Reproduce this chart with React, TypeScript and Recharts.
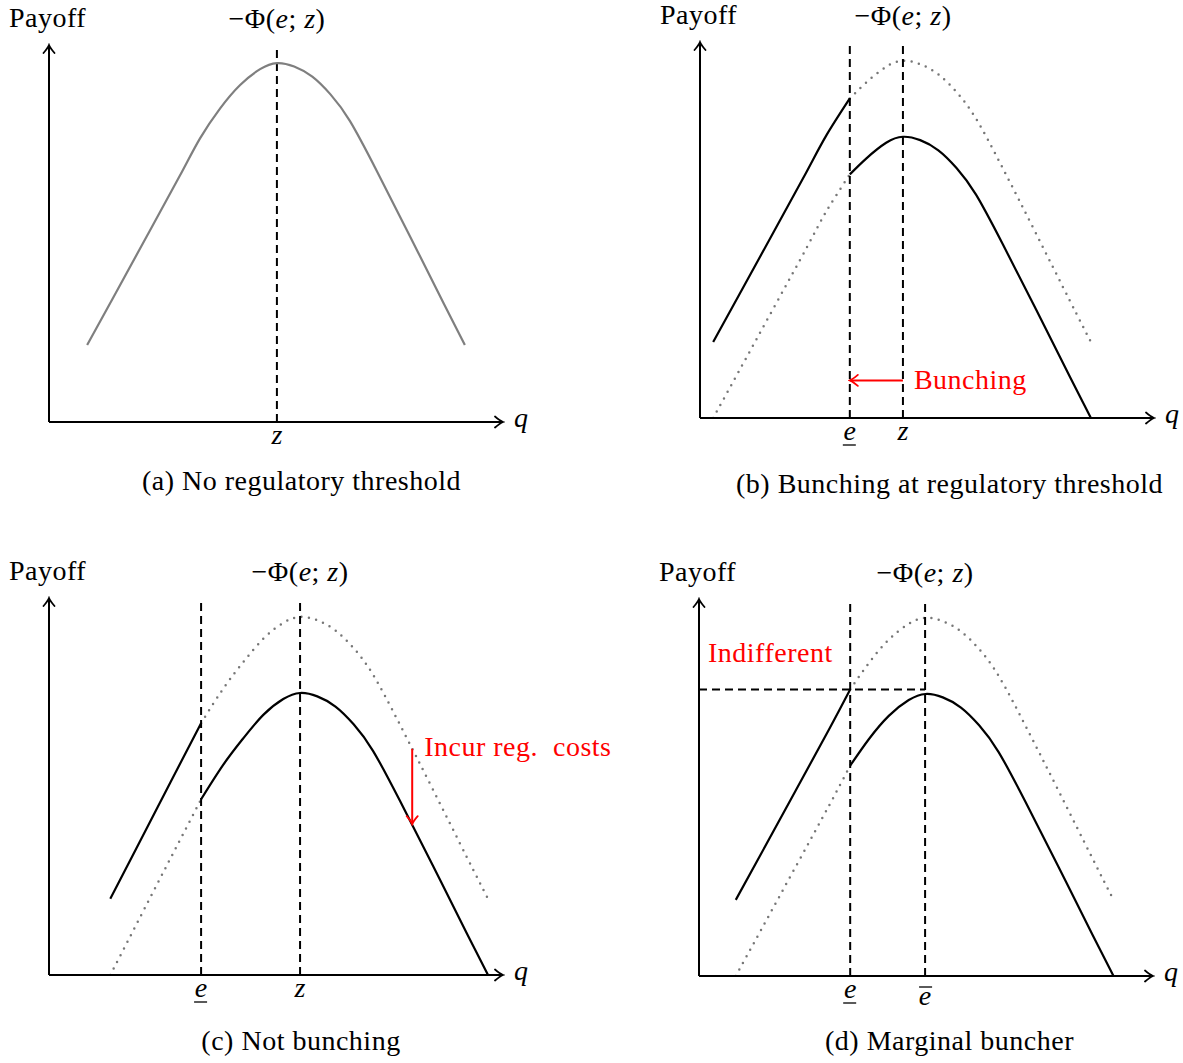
import React from "react";
import { LineChart, Line, XAxis, YAxis, ReferenceLine } from "recharts";

// (a) no regulatory threshold
const qA = [8.4, 14.1, 21.6, 28.9, 33.3, 37.7, 42.1, 46.5, 50.2, 54.0, 58.0, 62.0, 66.3, 72.2, 79.5, 87.0, 91.6];
const payoffA = [20.4, 32.9, 49.4, 65.5, 75.3, 83.2, 89.4, 93.6, 95.2, 94.3, 91.6, 86.9, 79.8, 66.6, 49.3, 31.3, 20.4];
const zA = 50.2;

// (b) bunching at regulatory threshold
const qB = [2.9, 8.6, 16.1, 23.4, 27.8, 33.0, 36.6, 41.0, 44.7, 48.5, 52.5, 56.5, 60.8, 66.7, 74.0, 81.5, 86.1];
const upperB = [20.2, 32.7, 49.2, 65.3, 75.1, 85.0, 89.2, 93.4, 95.0, 94.1, 91.4, 86.7, 79.6, 66.4, 49.1, 31.1, 20.2];
const lowerB = [0, 12.5, 29.0, 45.1, 54.9, 64.8, 69.0, 73.2, 74.8, 73.9, 71.2, 66.5, 59.4, 46.2, 28.9, 10.9, 0];
const eB = 33.0;
const zB = 44.7;
const bunchingLevelB = 10;

// (c) not bunching
const qC = [13.5, 19.2, 26.7, 33.5, 38.4, 42.8, 47.2, 51.6, 55.3, 59.1, 63.1, 67.1, 71.4, 77.3, 84.6, 92.1, 96.7];
const upperC = [20.2, 33.5, 51.0, 66.8, 76.0, 83.0, 89.2, 93.4, 95.0, 94.1, 91.4, 86.7, 79.6, 66.4, 49.1, 31.1, 20.2];
const lowerC = [0, 13.3, 30.8, 46.6, 55.8, 62.8, 69.0, 73.2, 74.8, 73.9, 71.2, 66.5, 59.4, 46.2, 28.9, 10.9, 0];
const eC = 33.5;
const zC = 55.3;
const costQC = 80;
const costFromC = 60;
const costToC = 40;

// (d) marginal buncher
const qD = [8.1, 13.8, 21.3, 28.6, 33.3, 37.4, 41.8, 46.2, 49.9, 53.7, 57.7, 61.7, 66.0, 71.9, 79.2, 86.7, 91.3];
const upperD = [20.2, 32.7, 49.2, 65.3, 76.0, 83.0, 89.2, 93.4, 95.0, 94.1, 91.4, 86.7, 79.6, 66.4, 49.1, 31.1, 20.2];
const lowerD = [0, 12.5, 29.0, 45.1, 55.8, 62.8, 69.0, 73.2, 74.8, 73.9, 71.2, 66.5, 59.4, 46.2, 28.9, 10.9, 0];
const eD = 33.3;
const ebarD = 49.8;
const indifferentD = 76.0;

const captions = [
  "(a) No regulatory threshold",
  "(b) Bunching at regulatory threshold",
  "(c) Not bunching",
  "(d) Marginal buncher",
];

const FONT = '"Liberation Serif", "Times New Roman", serif';
const SIZE = 28;
const SPACING = "0.5px";

function splitRows(q: number[], upper: number[], lower: number[], e: number) {
  return q.map((x, i) => ({
    q: x,
    upperSolid: x <= e ? upper[i] : null,
    upperDotted: x >= e ? upper[i] : null,
    lowerDotted: x <= e ? lower[i] : null,
    lowerSolid: x >= e ? lower[i] : null,
  }));
}

const rowsA = qA.map((q, i) => ({ q, payoff: payoffA[i] }));
const rowsB = splitRows(qB, upperB, lowerB, eB);
const rowsC = splitRows(qC, upperC, lowerC, eC);
const rowsD = splitRows(qD, upperD, lowerD, eD);

const makeTick = (values: number[], labels: string[], marks: string[]) => (props: any) => {
  const { x, y, payload } = props;
  const i = values.indexOf(payload.value);
  if (i < 0) return <g />;
  const base = y + (marks[i] === "over" ? 29 : 22);
  return (
    <g>
      <text x={x} y={base} textAnchor="middle" fontFamily={FONT} fontSize={SIZE} fontStyle="italic" fill="#000">
        {labels[i]}
      </text>
      {marks[i] === "under" && <line x1={x - 7} x2={x + 6} y1={base + 5} y2={base + 5} stroke="#000" strokeWidth={1.3} />}
      {marks[i] === "over" && <line x1={x - 6} x2={x + 7} y1={base - 18} y2={base - 18} stroke="#000" strokeWidth={1.3} />}
    </g>
  );
};

const qLabel = (props: any) => {
  const vb = props.viewBox;
  return (
    <text x={vb.x + vb.width + 11} y={vb.y + 5} fontFamily={FONT} fontSize={SIZE} fontStyle="italic" fill="#000">
      q
    </text>
  );
};

const payoffLabel = (props: any) => {
  const vb = props.viewBox;
  return (
    <text x={vb.x + vb.width - 40} y={vb.y - 18} fontFamily={FONT} fontSize={SIZE} fill="#000" style={{ letterSpacing: SPACING }}>
      Payoff
    </text>
  );
};

const phiLabel = (props: any) => {
  const vb = props.viewBox;
  return (
    <text x={vb.x} y={vb.y - 17} textAnchor="middle" fontFamily={FONT} fontSize={SIZE} fill="#000" style={{ letterSpacing: SPACING }}>
      −Φ(<tspan fontStyle="italic">e</tspan>; <tspan fontStyle="italic">z</tspan>)
    </text>
  );
};

const redText = (text: string, dx: number, dy: number) => (props: any) => {
  const vb = props.viewBox;
  return (
    <text
      x={vb.x + vb.width + dx}
      y={vb.y + dy}
      fontFamily={FONT}
      fontSize={SIZE}
      fill="#ff0000"
      style={{ letterSpacing: SPACING, whiteSpace: "pre" }}
    >
      {text}
    </text>
  );
};

const solid = { stroke: "#000", strokeWidth: 2.2, dot: false, activeDot: false, isAnimationActive: false, type: "natural" as const };
const dotted = {
  stroke: "#777",
  strokeWidth: 2.5,
  strokeDasharray: "0 7.5",
  strokeLinecap: "round" as const,
  dot: false,
  activeDot: false,
  isAnimationActive: false,
  type: "natural" as const,
};
const dashed = { stroke: "#000", strokeWidth: 2, strokeDasharray: "8 5" };

function Frame(props: any) {
  const { left, top, width, height, margin, rows, tickValues, tickLabels, tickMarks, children } = props;
  return (
    <div style={{ position: "absolute", left, top }}>
      <LineChart width={width} height={height} data={rows} margin={margin}>
        <XAxis
          type="number"
          dataKey="q"
          domain={[0, 100]}
          allowDataOverflow
          ticks={tickValues}
          interval={0}
          tickLine={false}
          tickSize={0}
          tickMargin={0}
          height={30}
          axisLine={{ stroke: "#000", strokeWidth: 2, markerEnd: "url(#tipBlack)" }}
          tick={makeTick(tickValues, tickLabels, tickMarks)}
          label={qLabel}
        />
        <YAxis
          type="number"
          domain={[0, 100]}
          allowDataOverflow
          width={10}
          tick={false}
          tickLine={false}
          axisLine={{ stroke: "#000", strokeWidth: 2, markerStart: "url(#tipBlack)" }}
          label={payoffLabel}
        />
        {children}
      </LineChart>
    </div>
  );
}

function Caption({ text, center, baseline }: { text: string; center: number; baseline: number }) {
  return (
    <div
      style={{
        position: "absolute",
        left: center - 300,
        width: 600,
        top: baseline - 23.4,
        textAlign: "center",
        fontFamily: FONT,
        fontSize: SIZE,
        lineHeight: "28px",
        letterSpacing: SPACING,
        whiteSpace: "nowrap",
        color: "#000",
      }}
    >
      {text}
    </div>
  );
}

export default function App() {
  return (
    <div style={{ position: "absolute", left: 0, top: 0, width: 1183, height: 1063, background: "#fff" }}>
      <svg width={0} height={0} style={{ position: "absolute" }}>
        <defs>
          <marker id="tipBlack" viewBox="-10 -7 12 14" refX={0} refY={0} markerWidth={12} markerHeight={14} markerUnits="userSpaceOnUse" orient="auto-start-reverse">
            <path d="M-8,-5.5 Q-3,-1.2 0,0 Q-3,1.2 -8,5.5" fill="none" stroke="#000" strokeWidth={1.8} strokeLinecap="round" />
          </marker>
          <marker id="tipRed" viewBox="-10 -7 12 14" refX={0} refY={0} markerWidth={12} markerHeight={14} markerUnits="userSpaceOnUse" orient="auto-start-reverse">
            <path d="M-8,-5.5 Q-3,-1.2 0,0 Q-3,1.2 -8,5.5" fill="none" stroke="#ff0000" strokeWidth={1.8} strokeLinecap="round" />
          </marker>
        </defs>
      </svg>

      {/* (a) */}
      <Frame
        left={0}
        top={0}
        width={640}
        height={470}
        margin={{ top: 45, left: 39, right: 137, bottom: 18 }}
        rows={rowsA}
        tickValues={[zA]}
        tickLabels={["z"]}
        tickMarks={["none"]}
      >
        <ReferenceLine x={zA} {...dashed} label={phiLabel} />
        <Line dataKey="payoff" stroke="#7f7f7f" strokeWidth={2.2} type="natural" dot={false} activeDot={false} isAnimationActive={false} />
      </Frame>

      {/* (b) */}
      <Frame
        left={650}
        top={0}
        width={533}
        height={470}
        margin={{ top: 42, left: 40, right: 29, bottom: 22 }}
        rows={rowsB}
        tickValues={[eB, zB]}
        tickLabels={["e", "z"]}
        tickMarks={["under", "none"]}
      >
        <Line dataKey="upperDotted" {...dotted} />
        <Line dataKey="lowerDotted" {...dotted} />
        <Line dataKey="upperSolid" {...solid} />
        <Line dataKey="lowerSolid" {...solid} />
        <ReferenceLine x={eB} {...dashed} />
        <ReferenceLine x={zB} {...dashed} label={phiLabel} />
        <ReferenceLine
          segment={[{ x: zB, y: bunchingLevelB }, { x: eB, y: bunchingLevelB }]}
          stroke="#ff0000"
          strokeWidth={2}
          markerEnd="url(#tipRed)"
          label={redText("Bunching", 11, 9)}
        />
      </Frame>

      {/* (c) */}
      <Frame
        left={0}
        top={550}
        width={640}
        height={470}
        margin={{ top: 48, left: 39, right: 137, bottom: 15 }}
        rows={rowsC}
        tickValues={[eC, zC]}
        tickLabels={["e", "z"]}
        tickMarks={["under", "none"]}
      >
        <Line dataKey="upperDotted" {...dotted} />
        <Line dataKey="lowerDotted" {...dotted} />
        <Line dataKey="upperSolid" {...solid} />
        <Line dataKey="lowerSolid" {...solid} />
        <ReferenceLine x={eC} {...dashed} />
        <ReferenceLine x={zC} {...dashed} label={phiLabel} />
        <ReferenceLine
          segment={[{ x: costQC, y: costFromC }, { x: costQC, y: costToC }]}
          stroke="#ff0000"
          strokeWidth={2}
          markerEnd="url(#tipRed)"
          label={redText("Incur reg.  costs", 12, 7)}
        />
      </Frame>

      {/* (d) */}
      <Frame
        left={650}
        top={550}
        width={533}
        height={470}
        margin={{ top: 49, left: 39, right: 30, bottom: 14 }}
        rows={rowsD}
        tickValues={[eD, ebarD]}
        tickLabels={["e", "e"]}
        tickMarks={["under", "over"]}
      >
        <Line dataKey="upperDotted" {...dotted} />
        <Line dataKey="lowerDotted" {...dotted} />
        <Line dataKey="upperSolid" {...solid} />
        <Line dataKey="lowerSolid" {...solid} />
        <ReferenceLine x={eD} {...dashed} />
        <ReferenceLine x={ebarD} {...dashed} label={phiLabel} />
        <ReferenceLine
          segment={[{ x: 0, y: indifferentD }, { x: ebarD, y: indifferentD }]}
          {...dashed}
          label={(p: any) => redText("Indifferent", 0, 0)({ viewBox: { x: p.viewBox.x + 9, y: p.viewBox.y - 27, width: 0 } })}
        />
      </Frame>

      <Caption text={captions[0]} center={301.5} baseline={490} />
      <Caption text={captions[1]} center={949.5} baseline={493} />
      <Caption text={captions[2]} center={301} baseline={1050} />
      <Caption text={captions[3]} center={949.5} baseline={1050} />
    </div>
  );
}
